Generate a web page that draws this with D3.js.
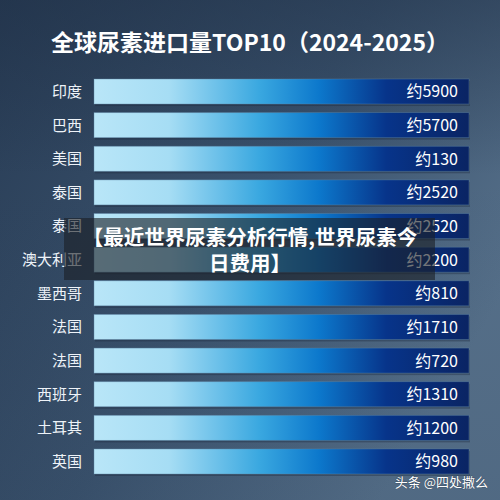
<!DOCTYPE html>
<html>
<head>
<meta charset="utf-8">
<script src="https://cdn.jsdelivr.net/npm/d3@7"></script>
<style>
  body { margin: 0; background: #2f4560; }
  svg { display: block; }
</style>
</head>
<body>
<div id="chart"></div>
<script>
const countries = ['印度', '巴西', '美国', '泰国', '泰国', '澳大利亚', '墨西哥', '法国', '法国', '西班牙', '土耳其', '英国']
const imports = [5900, 5700, 130, 2520, 2520, 2200, 810, 1710, 720, 1310, 1200, 980]
const titleText = '全球尿素进口量TOP10（2024-2025）'
const overlayLines = ['【最近世界尿素分析行情,世界尿素今', '日费用】']
const watermark = '头条 @四处撒么'

const width = 500
const height = 500
const font = '"Noto Sans CJK SC", "Noto Sans", sans-serif'

const svg = d3.select('#chart')
  .append('svg')
    .attr('width', width)
    .attr('height', height)

const defs = svg.append('defs')

// background
const bg = defs.append('linearGradient')
  .attr('id', 'bg')
  .attr('x1', 0).attr('y1', 0).attr('x2', 1).attr('y2', 0.6)
bg.append('stop').attr('offset', '0%').attr('stop-color', '#283c55')
bg.append('stop').attr('offset', '55%').attr('stop-color', '#3a526d')
bg.append('stop').attr('offset', '100%').attr('stop-color', '#56708a')

const bgTop = defs.append('linearGradient')
  .attr('id', 'bgTop')
  .attr('x1', 0).attr('y1', 0).attr('x2', 0).attr('y2', 1)
bgTop.append('stop').attr('offset', '0%').attr('stop-color', '#1e2e44').attr('stop-opacity', 0.45)
bgTop.append('stop').attr('offset', '35%').attr('stop-color', '#1e2e44').attr('stop-opacity', 0)
bgTop.append('stop').attr('offset', '100%').attr('stop-color', '#1e2e44').attr('stop-opacity', 0.1)

svg.append('rect').attr('width', width).attr('height', height).attr('fill', 'url(#bg)')
svg.append('rect').attr('width', width).attr('height', height).attr('fill', 'url(#bgTop)')

// bar gradient
const barGrad = defs.append('linearGradient')
  .attr('id', 'barGrad')
  .attr('x1', 0).attr('y1', 0).attr('x2', 1).attr('y2', 0)
barGrad.append('stop').attr('offset', '0%').attr('stop-color', '#b9e6f8')
barGrad.append('stop').attr('offset', '20%').attr('stop-color', '#a6ddf4')
barGrad.append('stop').attr('offset', '44%').attr('stop-color', '#3aa8e0')
barGrad.append('stop').attr('offset', '60%').attr('stop-color', '#0c78cc')
barGrad.append('stop').attr('offset', '78%').attr('stop-color', '#07348a')
barGrad.append('stop').attr('offset', '100%').attr('stop-color', '#0a2463')

// title
svg.append('text')
  .attr('x', width / 2)
  .attr('y', 51)
  .attr('text-anchor', 'middle')
  .attr('fill', '#ffffff')
  .attr('font-family', font)
  .attr('font-weight', 'bold')
  .attr('font-size', 23)
  .text(titleText)

// scales
const x = d3.scaleLinear().domain([0, 1]).range([94, 469])
const y = d3.scaleBand()
  .domain(countries.map((d, i) => i))
  .range([79, 474])
  .paddingInner(0.256)
  .paddingOuter(0)

const rows = svg.append('g')
  .selectAll('g')
  .data(countries)
  .join('g')
    .attr('transform', (d, i) => `translate(0,${y(i)})`)

rows.append('rect')
  .attr('x', x(0) + 1)
  .attr('y', 2)
  .attr('width', x(1) - x(0))
  .attr('height', y.bandwidth())
  .attr('fill', '#1a2638')
  .attr('opacity', 0.35)

rows.append('rect')
  .attr('x', x(0))
  .attr('width', x(1) - x(0))
  .attr('height', y.bandwidth())
  .attr('fill', 'url(#barGrad)')
  .attr('stroke', '#5f87a8')
  .attr('stroke-opacity', 0.5)
  .attr('stroke-width', 0.8)

rows.append('text')
  .attr('x', x(0) - 12)
  .attr('y', y.bandwidth() / 2)
  .attr('dy', '0.36em')
  .attr('text-anchor', 'end')
  .attr('fill', '#eef3f8')
  .attr('font-family', font)
  .attr('font-size', 15)
  .text(d => d)

rows.append('text')
  .attr('x', x(1) - 11)
  .attr('y', y.bandwidth() / 2)
  .attr('dy', '0.37em')
  .attr('text-anchor', 'end')
  .attr('fill', '#ffffff')
  .attr('font-family', font)
  .attr('font-size', 16)
  .text((d, i) => '约' + imports[i])

// overlay caption
svg.append('rect')
  .attr('x', 64)
  .attr('y', 218)
  .attr('width', 371)
  .attr('height', 62)
  .attr('fill', '#1c2127')
  .attr('opacity', 0.62)

svg.append('g')
  .selectAll('text')
  .data(overlayLines)
  .join('text')
    .attr('x', width / 2)
    .attr('y', (d, i) => 245 + i * 26)
    .attr('text-anchor', 'middle')
    .attr('fill', '#ffffff')
    .attr('font-family', font)
    .attr('font-weight', 'bold')
    .attr('font-size', 20.5)
    .text(d => d)

// watermark
svg.append('text')
  .attr('x', 488)
  .attr('y', 487)
  .attr('text-anchor', 'end')
  .attr('fill', '#ffffff')
  .attr('font-family', font)
  .attr('font-size', 13)
  .attr('stroke', '#2a3a4c')
  .attr('stroke-width', 0.6)
  .attr('paint-order', 'stroke')
  .text(watermark)
</script>
</body>
</html>
